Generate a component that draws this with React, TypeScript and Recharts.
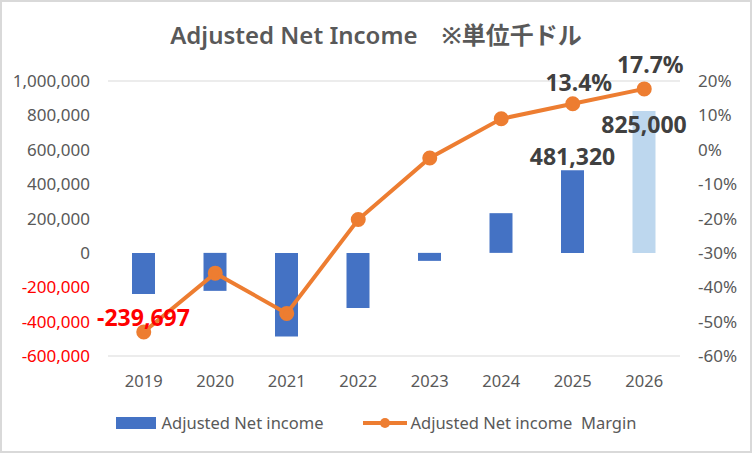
import React from 'react'
import { Bar, Cell, ComposedChart, CartesianGrid, LabelList, Legend, Line, XAxis, YAxis } from 'recharts'

const years = ['2019', '2020', '2021', '2022', '2023', '2024', '2025', '2026']
const netIncome = [-239697, -221000, -486000, -321000, -46500, 231000, 481320, 825000]
const marginPct = [-53.0, -35.9, -47.6, -20.3, -2.4, 9.0, 13.4, 17.7]
const incomeTicks = [-600000, -400000, -200000, 0, 200000, 400000, 600000, 800000, 1000000]
const marginTicks = [-60, -50, -40, -30, -20, -10, 0, 10, 20]
const labelledIncome = ['2019', '2025', '2026']
const labelledMargin = ['2025', '2026']

const data = years.map((y, i) => ({ year: y, income: netIncome[i], margin: marginPct[i] }))

const FONT = '"Noto Sans", "Noto Sans CJK JP", sans-serif'
const GRAY = '#595959'

const fmt = (v: number) => v.toLocaleString('en-US')

function LeftTick({ x, y, payload }: any) {
  return (
    <text x={x - 10} y={y} dy={6} textAnchor='end' fontSize={17} fontFamily={FONT}
      fill={payload.value < 0 ? '#ff0000' : GRAY}>
      {fmt(payload.value)}
    </text>
  )
}

function RightTick({ x, y, payload }: any) {
  return (
    <text x={x + 10} y={y} dy={6} textAnchor='start' fontSize={17} fontFamily={FONT} fill={GRAY}>
      {payload.value}%
    </text>
  )
}

function IncomeLabel(props: any) {
  const { x, y, width, height, value, index } = props
  if (!labelledIncome.includes(years[index])) return null
  const cx = x + width / 2
  const top = Math.min(y, y + height)
  const bottom = Math.max(y, y + height)
  let ty
  let color = '#404040'
  if (value < 0) {
    // negative: under the bar, red
    ty = bottom + 32
    color = '#ff0000'
  } else if (years[index] === '2026') {
    ty = top + 22
  } else {
    ty = top - 5
  }
  return (
    <text x={cx} y={ty} textAnchor='middle' fontSize={23} fontWeight={700} fontFamily={FONT} fill={color}>
      {fmt(value)}
    </text>
  )
}

function MarginLabel(props: any) {
  const { x, y, value, index } = props
  if (!labelledMargin.includes(years[index])) return null
  const up = years[index] === '2026' ? 16 : 13
  return (
    <text x={x + 6} y={y - up} textAnchor='middle' fontSize={23} fontWeight={700} fontFamily={FONT} fill='#404040'>
      {value.toFixed(1)}%
    </text>
  )
}

function ChartLegend() {
  return (
    <div style={{ display: 'flex', justifyContent: 'center', alignItems: 'center', fontFamily: FONT, fontSize: 16.5, color: GRAY, width: 752, paddingTop: 10 }}>
      <span style={{ display: 'inline-block', width: 40, height: 12, background: '#4472C4', marginRight: 6 }} />
      <span style={{ marginRight: 40 }}>Adjusted Net income</span>
      <svg width={44} height={12} style={{ marginRight: 3 }}>
        <line x1={0} y1={6} x2={44} y2={6} stroke='#ED7D31' strokeWidth={4} />
        <circle cx={22} cy={6} r={5} fill='#ED7D31' />
      </svg>
      <span>Adjusted Net income&nbsp;&nbsp;Margin</span>
    </div>
  )
}

export default function App() {
  return (
    <div style={{ position: 'relative', width: 752, height: 453, background: '#fff', boxSizing: 'border-box' }}>
      <style>{'body{margin:0}'}</style>
      <div style={{ position: 'absolute', inset: 0, border: '2px solid #d9d9d9', boxSizing: 'border-box', pointerEvents: 'none' }} />
      <div style={{ position: 'absolute', top: 16, width: 752, textAlign: 'center', fontFamily: FONT, fontSize: 24, fontWeight: 600, color: GRAY }}>
        Adjusted Net Income　※単位千ドル
      </div>
      <ComposedChart width={752} height={453} data={data} margin={{ top: 81, right: 0, left: 0, bottom: 0 }}>
        <CartesianGrid vertical={false} stroke='#d9d9d9' />
        <XAxis dataKey='year' axisLine={false} tickLine={false} height={45}
          tick={{ fill: GRAY, fontSize: 16.5, fontFamily: FONT }} tickMargin={13} />
        <YAxis yAxisId='l' width={108} domain={[-600000, 1000000]} ticks={incomeTicks}
          axisLine={false} tickLine={false} tick={<LeftTick />} />
        <YAxis yAxisId='r' orientation='right' width={72} domain={[-60, 20]} ticks={marginTicks}
          axisLine={false} tickLine={false} tick={<RightTick />} />
        <Legend verticalAlign='bottom' height={52} content={<ChartLegend />} />
        <Bar yAxisId='l' dataKey='income' barSize={23} fill='#4472C4' isAnimationActive={false}>
          {data.map((d) => (
            <Cell key={d.year} fill={d.year === '2026' ? '#BDD7EE' : '#4472C4'} />
          ))}
          <LabelList dataKey='income' content={<IncomeLabel />} />
        </Bar>
        <Line yAxisId='r' dataKey='margin' stroke='#ED7D31' strokeWidth={4}
          dot={{ r: 5.5, fill: '#ED7D31', stroke: '#ED7D31' }} isAnimationActive={false}>
          <LabelList dataKey='margin' content={<MarginLabel />} />
        </Line>
      </ComposedChart>
    </div>
  )
}
